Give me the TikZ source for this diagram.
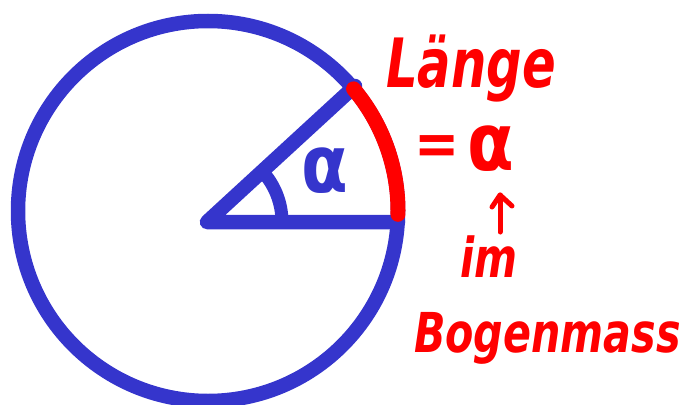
\documentclass[tikz,border=0pt]{standalone}
\usepackage{fontspec}
\usepackage{graphicx}
\setmainfont{DejaVu Sans}
\definecolor{penblue}{RGB}{53,53,204}
\definecolor{penred}{RGB}{255,0,0}
\begin{document}
\begin{tikzpicture}[x=1pt,y=-1pt,
  blueline/.style={draw=penblue,line width=14.5pt,line cap=round,line join=round},
  redline/.style={draw=penred,line width=15pt,line cap=round},
  redtext/.style={text=penred,inner sep=0pt,font=\bfseries\itshape},
]
\useasboundingbox (0,0) rectangle (690,404);
\clip (0,0) rectangle (690,404);
% circle
\coordinate (C) at (208,211);
\draw[blueline] (C) circle[radius=190pt];
% sector
\coordinate (O) at (207,222);
\coordinate (P) at (355,86);
\coordinate (Q) at (398,222);
\draw[blueline] (P) -- (O) -- (Q);
% angle mark
\draw[blueline,line width=13pt,line cap=butt] ([shift={(43:75pt)}]O) arc[start angle=43,end angle=0,radius=75pt];
% red arc
\draw[redline] ([shift={(40:190pt)}]C) arc[start angle=40,end angle=-1,radius=190pt];
% alpha in sector
\node[text=penblue,inner sep=0pt,font=\bfseries] (a1) at (325,171) {\scalebox{0.85}[1]{\fontsize{80}{80}\selectfont α}};
% texts
\node[redtext,anchor=base west] (laenge) at (386,87) {\scalebox{0.73}[1]{\fontsize{68}{68}\selectfont Länge}};
\node[redtext,anchor=center] (eq) at (437,150) {\scalebox{0.9}[1]{\fontsize{60}{60}\selectfont =}};
\node[text=penred,inner sep=0pt,font=\bfseries] (a2) at (491,149) {\scalebox{0.85}[1]{\fontsize{80}{80}\selectfont α}};
\node[redtext,anchor=base west] (im) at (460,277) {\scalebox{0.75}[1]{\fontsize{55}{55}\selectfont im}};
\node[redtext,anchor=base west] (bogen) at (414,352) {\scalebox{0.75}[1]{\fontsize{55}{55}\selectfont Bogenmass}};
% arrow
\coordinate (arrS) at (500,232);
\coordinate (arrE) at (500,195);
\draw[draw=penred,line width=5pt,line cap=round,line join=round] (arrS) -- (arrE);
\draw[draw=penred,line width=5pt,line cap=round,line join=round] ([shift={(-8,12)}]arrE) -- (arrE) -- ([shift={(12,11)}]arrE);
\end{tikzpicture}
\end{document}
